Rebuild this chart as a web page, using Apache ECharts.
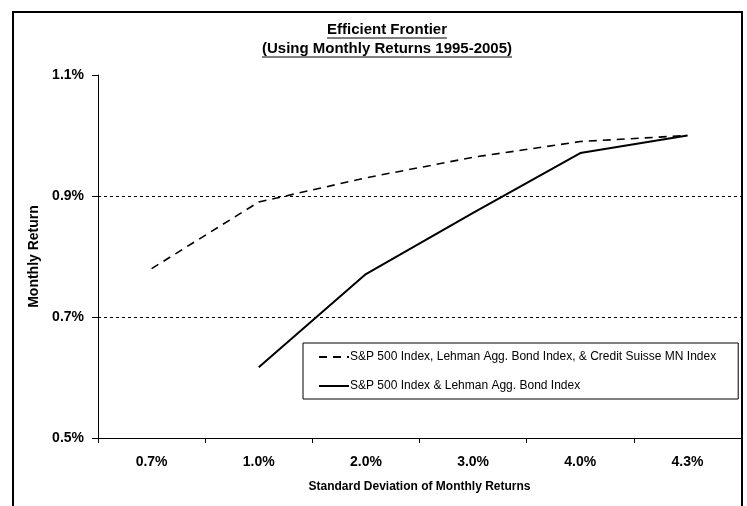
<!DOCTYPE html>
<html>
<head>
<meta charset="utf-8">
<script src="https://cdn.jsdelivr.net/npm/echarts@6/dist/echarts.min.js"></script>
<style>
html,body{margin:0;padding:0;background:#fff;}
#c{width:747px;height:506px;}
</style>
</head>
<body>
<div id="c"></div>
<script>
var categories = ['0.7%', '1.0%', '2.0%', '3.0%', '4.0%', '4.3%'];
var threeAssetReturns = [0.78, 0.89, 0.93, 0.964, 0.99, 1.0];
var twoAssetReturns = [null, 0.617, 0.771, 0.872, 0.971, 1.0];
var yTicks = [0.5, 0.7, 0.9, 1.1];
var gridValues = [0.7, 0.9];
var seriesNames = ['S&P 500 Index, Lehman Agg. Bond Index, & Credit Suisse MN Index', 'S&P 500 Index & Lehman Agg. Bond Index'];
var titleText = 'Efficient Frontier';
var subtitleText = '(Using Monthly Returns 1995-2005)';

var FONT = '"Liberation Sans", Arial, sans-serif';
var TITLE_FONT = 'bold 15px ' + FONT;

function textWidth(str, font) {
  var ctx = document.createElement('canvas').getContext('2d');
  ctx.font = font;
  return ctx.measureText(str).width;
}
var cx = 387;
var tw1 = textWidth(titleText, TITLE_FONT);
var tw2 = textWidth(subtitleText, TITLE_FONT);

var chart = echarts.init(document.getElementById('c'), null, {renderer: 'canvas'});

chart.setOption({
  animation: false,
  backgroundColor: '#fff',
  grid: {left: 98, right: 6, top: 75, bottom: 68, containLabel: false},
  graphic: [
    {type: 'rect', shape: {x: 13, y: 12, width: 729, height: 510}, style: {fill: 'none', stroke: '#000', lineWidth: 2}, silent: true},
    {type: 'text', x: cx, y: 30, style: {text: titleText, font: TITLE_FONT, fill: '#000', align: 'center', verticalAlign: 'middle'}},
    {type: 'line', shape: {x1: cx - tw1 / 2, y1: 38, x2: cx + tw1 / 2, y2: 38}, style: {stroke: '#000', lineWidth: 1}},
    {type: 'text', x: cx, y: 49, style: {text: subtitleText, font: TITLE_FONT, fill: '#000', align: 'center', verticalAlign: 'middle'}},
    {type: 'line', shape: {x1: cx - tw2 / 2, y1: 57, x2: cx + tw2 / 2, y2: 57}, style: {stroke: '#000', lineWidth: 1}}
  ],
  legend: {
    orient: 'vertical',
    left: 303, top: 343,
    padding: [8, 22, 7, 15],
    itemGap: 17,
    itemWidth: 30,
    itemHeight: 14,
    borderColor: '#000',
    borderWidth: 1,
    backgroundColor: '#fff',
    icon: 'inherit',
    itemStyle: {opacity: 0},
    textStyle: {fontFamily: FONT, fontSize: 12, color: '#000', padding: [0, 0, 0, -4]},
    data: seriesNames
  },
  xAxis: {
    type: 'category',
    data: categories,
    boundaryGap: true,
    name: 'Standard Deviation of Monthly Returns',
    nameLocation: 'middle',
    nameGap: 43,
    nameTextStyle: {fontFamily: FONT, fontWeight: 'bold', fontSize: 12, color: '#000'},
    axisLine: {lineStyle: {color: '#000', width: 1}},
    axisTick: {show: true, length: 5, lineStyle: {color: '#000'}},
    axisLabel: {fontFamily: FONT, fontWeight: 'bold', fontSize: 14, color: '#000', margin: 17},
    splitLine: {show: false}
  },
  yAxis: {
    type: 'value',
    min: 0.5, max: 1.1,
    name: 'Monthly Return',
    nameLocation: 'middle',
    nameGap: 53,
    nameRotate: 90,
    nameTextStyle: {fontFamily: FONT, fontWeight: 'bold', fontSize: 14, color: '#000'},
    axisLine: {show: true, lineStyle: {color: '#000', width: 1}},
    axisTick: {show: true, length: 6, inside: false, lineStyle: {color: '#000'}, customValues: yTicks},
    axisLabel: {fontFamily: FONT, fontWeight: 'bold', fontSize: 14, color: '#000', margin: 14, customValues: yTicks,
      formatter: function (v) { return v.toFixed(1) + '%'; }},
    splitLine: {show: false}
  },
  series: [
    {
      name: seriesNames[0], type: 'line', data: threeAssetReturns,
      symbol: 'none', smooth: false, connectNulls: false,
      lineStyle: {color: '#000', width: 1.6, type: [8, 6]},
      itemStyle: {color: '#000'},
      markLine: {
        silent: true, symbol: 'none', label: {show: false},
        lineStyle: {color: '#000', width: 1, type: [3, 3]},
        data: gridValues.map(function (v) { return {yAxis: v}; })
      }
    },
    {
      name: seriesNames[1], type: 'line', data: twoAssetReturns,
      symbol: 'none', smooth: false,
      lineStyle: {color: '#000', width: 2, type: 'solid'},
      itemStyle: {color: '#000'}
    }
  ]
});
</script>
</body>
</html>
